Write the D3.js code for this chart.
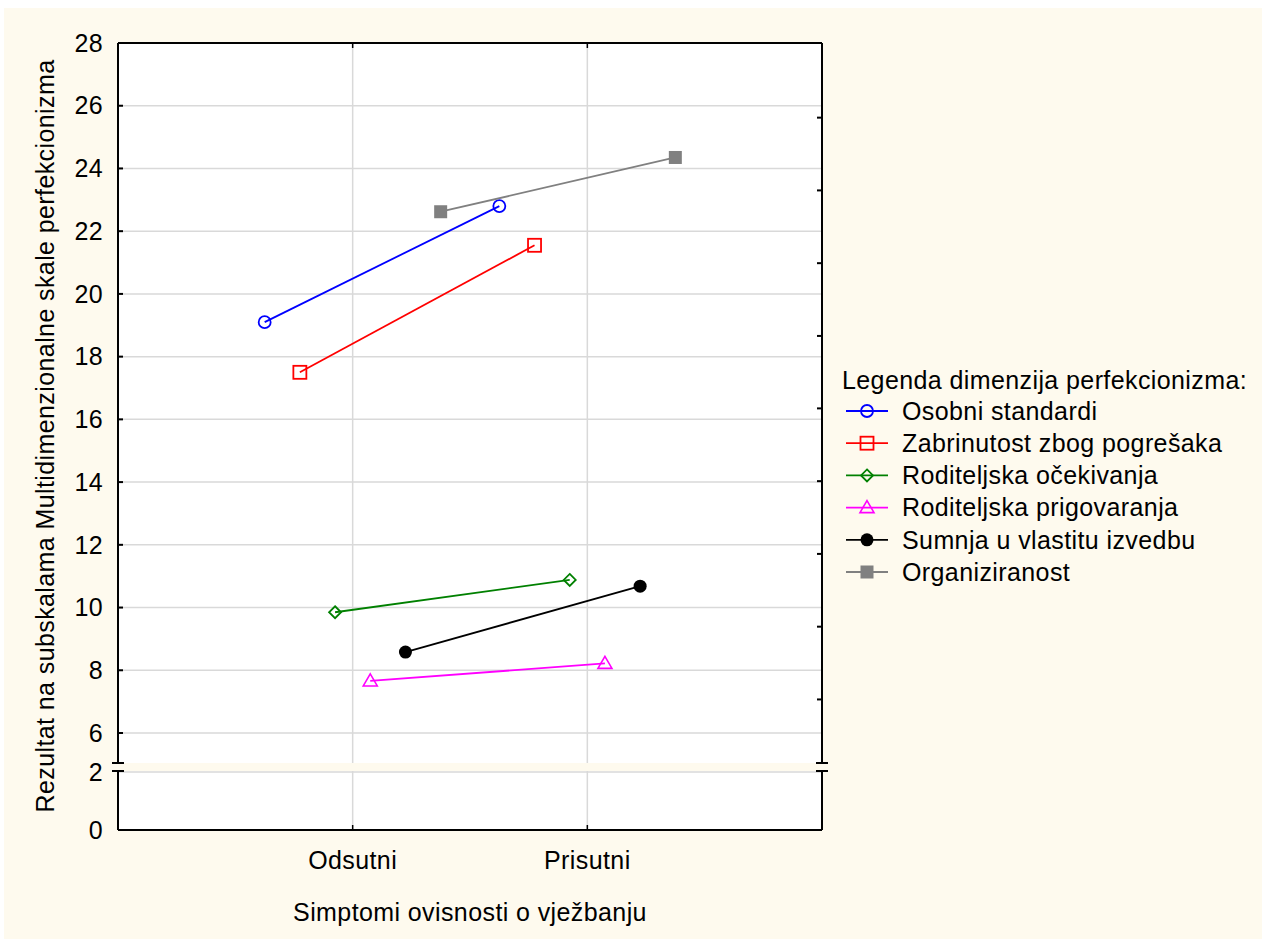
<!DOCTYPE html>
<html>
<head>
<meta charset="utf-8">
<script src="https://cdnjs.cloudflare.com/ajax/libs/d3/7.8.5/d3.min.js"></script>
<style>
  body { margin: 0; background: #fff; }
  svg { display: block; font-family: "Liberation Sans", Arial, sans-serif; }
  text { letter-spacing: 0.4px; }
</style>
</head>
<body>
<svg id="chart" width="1262" height="939"></svg>
<script>
// Data
const categories = ["Odsutni", "Prisutni"];
const seriesNames = [
  "Osobni standardi",
  "Zabrinutost zbog pogrešaka",
  "Roditeljska očekivanja",
  "Roditeljska prigovaranja",
  "Sumnja u vlastitu izvedbu",
  "Organiziranost",
];
const seriesValues = [
  [19.1, 22.8],
  [17.5, 21.55],
  [9.85, 10.88],
  [7.66, 8.22],
  [8.58, 10.68],
  [22.62, 24.35],
];
const seriesColors = ["#0000ff", "#ff0000", "#008000", "#ff00ff", "#000000", "#808080"];
const seriesMarkers = ["circle", "square", "diamond", "triangle", "dot", "filledSquare"];
const upperTicks = [6, 8, 10, 12, 14, 16, 18, 20, 22, 24, 26, 28];
const lowerTicks = [0, 2];
const rightTicks = [25.62, 23.3, 20.98, 18.66, 16.35, 14.03, 11.71, 9.39, 7.07];

const BG = "#fefaee";
const GRID = "#d9d9d9";
const FONT = 25;

const svg = d3.select("#chart");

// Background
svg.append("rect").attr("x", 4).attr("y", 8).attr("width", 1258).attr("height", 931).style("fill", BG);

// Plot dimensions
const plotLeft = 118, plotRight = 822, plotTop = 43, plotBottom = 830;
const breakTop = 763, breakBottom = 771;

// Scales
const xScale = d3.scalePoint().domain(categories).range([plotLeft, plotRight]).padding(1);
const offsetScale = d3.scalePoint().domain(seriesNames).range([-88, 88]);
const yUpper = d3.scaleLinear().domain([6, 28]).range([733, plotTop]);
const yLower = d3.scaleLinear().domain([0, 2]).range([plotBottom, 772]);

// Plot area
svg.append("rect").attr("x", plotLeft).attr("y", plotTop)
  .attr("width", plotRight - plotLeft).attr("height", plotBottom - plotTop).style("fill", "#fff");

// Grid lines
svg.append("g").selectAll("line").data(upperTicks.filter((d) => d < 28)).join("line")
  .attr("x1", plotLeft).attr("x2", plotRight)
  .attr("y1", (d) => yUpper(d)).attr("y2", (d) => yUpper(d))
  .style("stroke", GRID).style("stroke-width", 1.5);
svg.append("g").selectAll("line").data(lowerTicks.filter((d) => d > 0)).join("line")
  .attr("x1", plotLeft).attr("x2", plotRight)
  .attr("y1", (d) => yLower(d)).attr("y2", (d) => yLower(d))
  .style("stroke", GRID).style("stroke-width", 1.5);
svg.append("g").selectAll("line").data(categories).join("line")
  .attr("x1", (d) => xScale(d)).attr("x2", (d) => xScale(d))
  .attr("y1", plotTop).attr("y2", plotBottom)
  .style("stroke", GRID).style("stroke-width", 1.5);

// Axis break band
svg.append("rect").attr("x", plotLeft).attr("y", breakTop)
  .attr("width", plotRight - plotLeft).attr("height", breakBottom - breakTop).style("fill", BG);

// Frame
const frame = svg.append("g").style("stroke", "#000").style("stroke-width", 2).style("fill", "none");
frame.append("line").attr("x1", plotLeft).attr("x2", plotRight).attr("y1", plotTop).attr("y2", plotTop);
frame.append("line").attr("x1", plotLeft).attr("x2", plotRight).attr("y1", plotBottom).attr("y2", plotBottom);
[plotLeft, plotRight].forEach((x) => {
  frame.append("line").attr("x1", x).attr("x2", x).attr("y1", plotTop).attr("y2", breakTop);
  frame.append("line").attr("x1", x).attr("x2", x).attr("y1", breakBottom).attr("y2", plotBottom);
  [breakTop, breakBottom].forEach((y) => {
    frame.append("line").attr("x1", x - 6).attr("x2", x + 6).attr("y1", y).attr("y2", y);
  });
});

// Left axis ticks
svg.append("g").selectAll("line").data(upperTicks.filter((d) => d < 28)).join("line")
  .attr("x1", plotLeft).attr("x2", plotLeft + 5)
  .attr("y1", (d) => yUpper(d)).attr("y2", (d) => yUpper(d))
  .style("stroke", "#000").style("stroke-width", 2);
// Right axis ticks
svg.append("g").selectAll("line").data(rightTicks).join("line")
  .attr("x1", plotRight - 5).attr("x2", plotRight)
  .attr("y1", (d) => yUpper(d)).attr("y2", (d) => yUpper(d))
  .style("stroke", "#000").style("stroke-width", 2);
// Top and bottom category ticks
svg.append("g").selectAll("line").data(categories).join("line")
  .attr("x1", (d) => xScale(d)).attr("x2", (d) => xScale(d))
  .attr("y1", plotTop).attr("y2", plotTop + 5)
  .style("stroke", "#000").style("stroke-width", 1.5);
svg.append("g").selectAll("line").data(categories).join("line")
  .attr("x1", (d) => xScale(d)).attr("x2", (d) => xScale(d))
  .attr("y1", plotBottom - 5).attr("y2", plotBottom)
  .style("stroke", "#000").style("stroke-width", 1.5);

// Tick labels
svg.append("g").selectAll("text").data(upperTicks).join("text")
  .attr("x", plotLeft - 15).attr("y", (d) => yUpper(d)).attr("dy", "0.35em")
  .attr("text-anchor", "end").style("font-size", FONT + "px").text((d) => d);
svg.append("g").selectAll("text").data(lowerTicks).join("text")
  .attr("x", plotLeft - 15).attr("y", (d) => yLower(d)).attr("dy", "0.35em")
  .attr("text-anchor", "end").style("font-size", FONT + "px").text((d) => d);
svg.append("g").selectAll("text").data(categories).join("text")
  .attr("x", (d) => xScale(d)).attr("y", 860).attr("dy", "0.35em")
  .attr("text-anchor", "middle").style("font-size", FONT + "px").text((d) => d);

// Axis titles
svg.append("text").attr("x", 470).attr("y", 912).attr("dy", "0.35em")
  .attr("text-anchor", "middle").style("font-size", FONT + "px").text("Simptomi ovisnosti o vježbanju");
svg.append("text").attr("transform", "translate(45,436) rotate(-90)").attr("dy", "0.35em")
  .attr("text-anchor", "middle").style("font-size", FONT + "px")
  .text("Rezultat na subskalama Multidimenzionalne skale perfekcionizma");

// Markers
const drawMarker = (g, type, color, cx, cy) => {
  const s = 6.5;
  if (type === "circle") {
    g.append("circle").attr("cx", cx).attr("cy", cy).attr("r", 6)
      .style("fill", "none").style("stroke", color).style("stroke-width", 1.8);
  } else if (type === "dot") {
    g.append("circle").attr("cx", cx).attr("cy", cy).attr("r", 6.5).style("fill", color);
  } else if (type === "square") {
    g.append("rect").attr("x", cx - s).attr("y", cy - s).attr("width", 2 * s).attr("height", 2 * s)
      .style("fill", "none").style("stroke", color).style("stroke-width", 1.8);
  } else if (type === "filledSquare") {
    g.append("rect").attr("x", cx - s).attr("y", cy - s).attr("width", 2 * s).attr("height", 2 * s)
      .style("fill", color);
  } else if (type === "diamond") {
    g.append("path").attr("d", `M${cx},${cy - 6}L${cx + 6},${cy}L${cx},${cy + 6}L${cx - 6},${cy}Z`)
      .style("fill", "none").style("stroke", color).style("stroke-width", 1.8);
  } else if (type === "triangle") {
    g.append("path").attr("d", `M${cx},${cy - 7}L${cx + 7},${cy + 5}L${cx - 7},${cy + 5}Z`)
      .style("fill", "none").style("stroke", color).style("stroke-width", 1.6);
  }
};

// Series
const line = d3.line();
seriesNames.forEach((name, i) => {
  const g = svg.append("g");
  const pts = seriesValues[i].map((v, j) => [xScale(categories[j]) + offsetScale(name), yUpper(v)]);
  g.append("path").attr("d", line(pts))
    .style("fill", "none").style("stroke", seriesColors[i]).style("stroke-width", 1.8);
  pts.forEach((p) => drawMarker(g, seriesMarkers[i], seriesColors[i], p[0], p[1]));
});

// Legend
const legend = svg.append("g");
legend.append("text").attr("x", 842).attr("y", 380).attr("dy", "0.35em")
  .style("font-size", FONT + "px").text("Legenda dimenzija perfekcionizma:");
const legendY = d3.scalePoint().domain(seriesNames).range([411, 572]);
seriesNames.forEach((name, i) => {
  const y = legendY(name);
  legend.append("line").attr("x1", 846).attr("x2", 888).attr("y1", y).attr("y2", y)
    .style("stroke", seriesColors[i]).style("stroke-width", 1.8);
  drawMarker(legend, seriesMarkers[i], seriesColors[i], 867, y);
  legend.append("text").attr("x", 902).attr("y", y).attr("dy", "0.35em")
    .style("font-size", FONT + "px").text(name);
});
</script>
</body>
</html>
